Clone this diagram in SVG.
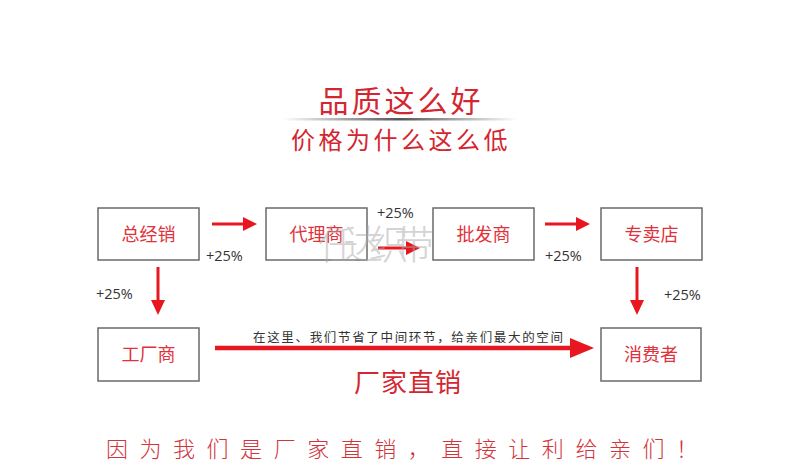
<svg xmlns="http://www.w3.org/2000/svg" width="800" height="472" viewBox="0 0 800 472">
<style>
.box{fill:#fff;stroke:#6a6a6a;stroke-width:1.5}
.nt{font-family:"Noto Sans CJK SC","Noto Sans",sans-serif;font-size:18px;fill:#e0323c;text-anchor:middle}
.pct{font-family:"Open Sans","DejaVu Sans",sans-serif;font-size:14.5px;fill:#333}
.ln{stroke:#e8161f;stroke-width:3;fill:none}
.hd{fill:#e8161f}
</style>
<defs>
<linearGradient id="rule" x1="0" x2="1" y1="0" y2="0">
<stop offset="0" stop-color="#fff"/>
<stop offset="0.5" stop-color="#555"/>
<stop offset="1" stop-color="#fff"/>
</linearGradient>
</defs>
<rect width="800" height="472" fill="#fff"/>
<g id="title">
<text x="401" y="112" font-family="Noto Sans CJK SC,sans-serif" font-size="30" letter-spacing="3" fill="#d42630" text-anchor="middle">品质这么好</text>
<rect x="283" y="118" width="234" height="2.5" fill="url(#rule)"/>
<text x="401" y="149" font-family="Noto Sans CJK SC,sans-serif" font-size="24" letter-spacing="3.5" fill="#d42630" text-anchor="middle">价格为什么这么低</text>
</g>
<g id="connectors">
<line class="ln" x1="212" y1="224" x2="245" y2="224"/><polygon class="hd" points="257,224 243,217 243,231"/>
<line class="ln" x1="378" y1="248" x2="408" y2="248"/><polygon class="hd" points="420,248 406,241 406,255"/>
<line class="ln" x1="545" y1="224" x2="578" y2="224"/><polygon class="hd" points="590,224 576,217 576,231"/>
<line class="ln" x1="158" y1="267" x2="158" y2="302"/><polygon class="hd" points="158,315 151,300 165,300"/>
<line class="ln" x1="637" y1="267" x2="637" y2="302"/><polygon class="hd" points="637,315 630,300 644,300"/>
<line x1="215" y1="348" x2="574" y2="348" stroke="#e8161f" stroke-width="4.5"/><polygon class="hd" points="594,348 570,338 570,358"/>
</g>
<g id="n1"><rect class="box" x="98" y="208" width="101" height="52"/><text class="nt" x="148.5" y="241">总经销</text></g>
<g id="n2"><rect class="box" x="266" y="208" width="101" height="52"/><text class="nt" x="316.5" y="241">代理商</text></g>
<g id="n3"><rect class="box" x="433" y="208" width="101" height="52"/><text class="nt" x="483.5" y="241">批发商</text></g>
<g id="n4"><rect class="box" x="601" y="208" width="101" height="52"/><text class="nt" x="651.5" y="241">专卖店</text></g>
<g id="n5"><rect class="box" x="98" y="328" width="101" height="53"/><text class="nt" x="148.5" y="361">工厂商</text></g>
<g id="n6"><rect class="box" x="601" y="328" width="100" height="53"/><text class="nt" x="651" y="361">消费者</text></g>
<g id="labels">
<text class="pct" x="206" y="261">+25%</text>
<text class="pct" x="377" y="218">+25%</text>
<text class="pct" x="545" y="261">+25%</text>
<text class="pct" x="96" y="299">+25%</text>
<text class="pct" x="664" y="300">+25%</text>
<text x="253" y="342" font-family="Noto Sans CJK SC,sans-serif" font-size="12.5" fill="#333" textLength="310" lengthAdjust="spacing">在这里、我们节省了中间环节，给亲们最大的空间</text>
<text x="408" y="392" font-family="Noto Sans CJK SC,sans-serif" font-size="26" fill="#d42630" text-anchor="middle" letter-spacing="1">厂家直销</text>
<text x="106" y="457" font-family="Noto Sans CJK SC,sans-serif" font-size="22" font-weight="300" fill="#d2343c" textLength="592" lengthAdjust="spacing">因为我们是厂家直销，直接让利给亲们！</text>
</g>
<g id="watermark" opacity="0.5">
<text x="318" y="259" font-family="Noto Sans CJK SC,sans-serif" font-weight="300" font-size="40" fill="#aaa" textLength="116" lengthAdjust="spacing">任达织带</text>
</g>
</svg>
